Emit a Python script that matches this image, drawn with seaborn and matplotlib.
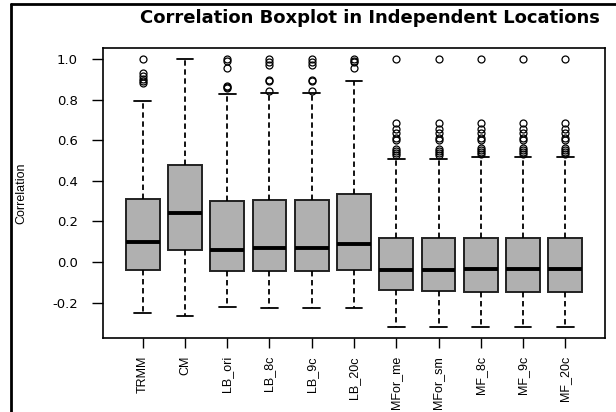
import numpy as np
import matplotlib
matplotlib.use("Agg")
import matplotlib.pyplot as plt
from matplotlib.lines import Line2D
import seaborn as sns

# valores (cuartiles, bigotes y atipicos)
metodos = ["TRMM", "CM", "LB_ori", "LB_8c", "LB_9c", "LB_20c",
           "MFor_me", "MFor_sm", "MF_8c", "MF_9c", "MF_20c"]
medianas = [0.100, 0.240, 0.060, 0.070, 0.070, 0.088,
            -0.040, -0.040, -0.036, -0.036, -0.036]
q1 = [-0.040, 0.060, -0.043, -0.043, -0.043, -0.040,
      -0.140, -0.142, -0.146, -0.146, -0.146]
q3 = [0.312, 0.478, 0.303, 0.306, 0.306, 0.335,
      0.120, 0.120, 0.120, 0.120, 0.120]
bigote_inf = [-0.252, -0.266, -0.222, -0.228, -0.228, -0.227,
              -0.320, -0.320, -0.320, -0.320, -0.320]
bigote_sup = [0.795, 1.000, 0.826, 0.830, 0.830, 0.890,
              0.507, 0.507, 0.517, 0.517, 0.517]
atipicos = [
    [1.000, 0.930, 0.915, 0.900, 0.890, 0.880],
    [],
    [1.000, 0.990, 0.955, 0.865, 0.860, 0.855],
    [1.000, 0.985, 0.970, 0.897, 0.893, 0.842],
    [1.000, 0.985, 0.970, 0.897, 0.893, 0.842],
    [1.000, 0.992, 0.985, 0.955],
    [1.000, 0.686, 0.655, 0.635, 0.611, 0.601, 0.557, 0.547, 0.537, 0.527],
    [1.000, 0.686, 0.655, 0.635, 0.611, 0.601, 0.557, 0.547, 0.537, 0.527],
    [1.000, 0.686, 0.655, 0.635, 0.611, 0.601, 0.562, 0.552, 0.542, 0.532],
    [1.000, 0.686, 0.655, 0.635, 0.611, 0.601, 0.562, 0.552, 0.542, 0.532],
    [1.000, 0.686, 0.655, 0.635, 0.611, 0.601, 0.562, 0.552, 0.542, 0.532],
]
yticks = [-0.2, 0.0, 0.2, 0.4, 0.6, 0.8, 1.0]

sns.set_style("white")
plt.rcParams["font.family"] = ["Liberation Sans", "DejaVu Sans"]
plt.rcParams["axes.unicode_minus"] = False
plt.rcParams["text.color"] = "black"
plt.rcParams["axes.labelcolor"] = "black"
plt.rcParams["xtick.color"] = "black"
plt.rcParams["ytick.color"] = "black"

stats = []
for i, nombre in enumerate(metodos):
    stats.append({
        "label": nombre,
        "med": medianas[i],
        "q1": q1[i],
        "q3": q3[i],
        "whislo": bigote_inf[i],
        "whishi": bigote_sup[i],
        "fliers": np.array(atipicos[i]),
    })

fig = plt.figure(figsize=(6.16, 4.12), dpi=100)
ax = fig.add_axes([103 / 616, 1 - 338 / 412, 502 / 616, 290 / 412])

ax.bxp(stats, positions=np.arange(1, len(metodos) + 1), widths=0.8,
       patch_artist=True,
       boxprops=dict(facecolor="#b0b0b0", edgecolor="#222222", linewidth=1.4),
       medianprops=dict(color="black", linewidth=2.8, solid_capstyle="butt"),
       whiskerprops=dict(color="black", linewidth=1.3, linestyle=(0, (3, 2))),
       capprops=dict(color="black", linewidth=1.3),
       flierprops=dict(marker="o", markerfacecolor="none", markeredgecolor="black",
                       markersize=5, markeredgewidth=0.9))

ax.set_xlim(0.06, 11.94)
ax.set_ylim(-0.374, 1.054)
ax.set_yticks(yticks)
ax.set_yticklabels([f"{v:.1f}" for v in yticks], family="DejaVu Sans", fontsize=9.5)
ax.set_xticks(np.arange(1, len(metodos) + 1))
ax.set_xticklabels(metodos, rotation=90, fontsize=9)
ax.tick_params(axis="y", length=8, width=1.0, pad=10, colors="black", left=True)
ax.tick_params(axis="x", length=7, width=1.0, pad=6, colors="black", bottom=True)
for sp in ax.spines.values():
    sp.set_visible(True)
    sp.set_color("black")
    sp.set_linewidth(1.2)

ax.set_ylabel("Correlation", fontsize=9, color="black")
ax.yaxis.set_label_coords(-0.151, 0.5)

fig.text(370 / 616, 1 - 18 / 412, "Correlation Boxplot in Independent Locations",
         ha="center", va="center", fontsize=13, fontweight="bold",
         family="DejaVu Sans", color="black")

# marco exterior de la figura original
fig.add_artist(Line2D([11 / 616, 11 / 616], [0, 1 - 4 / 412], color="black", linewidth=2))
fig.add_artist(Line2D([11 / 616, 1], [1 - 4 / 412, 1 - 4 / 412], color="black", linewidth=2))

fig.savefig("out.png", dpi=100)
